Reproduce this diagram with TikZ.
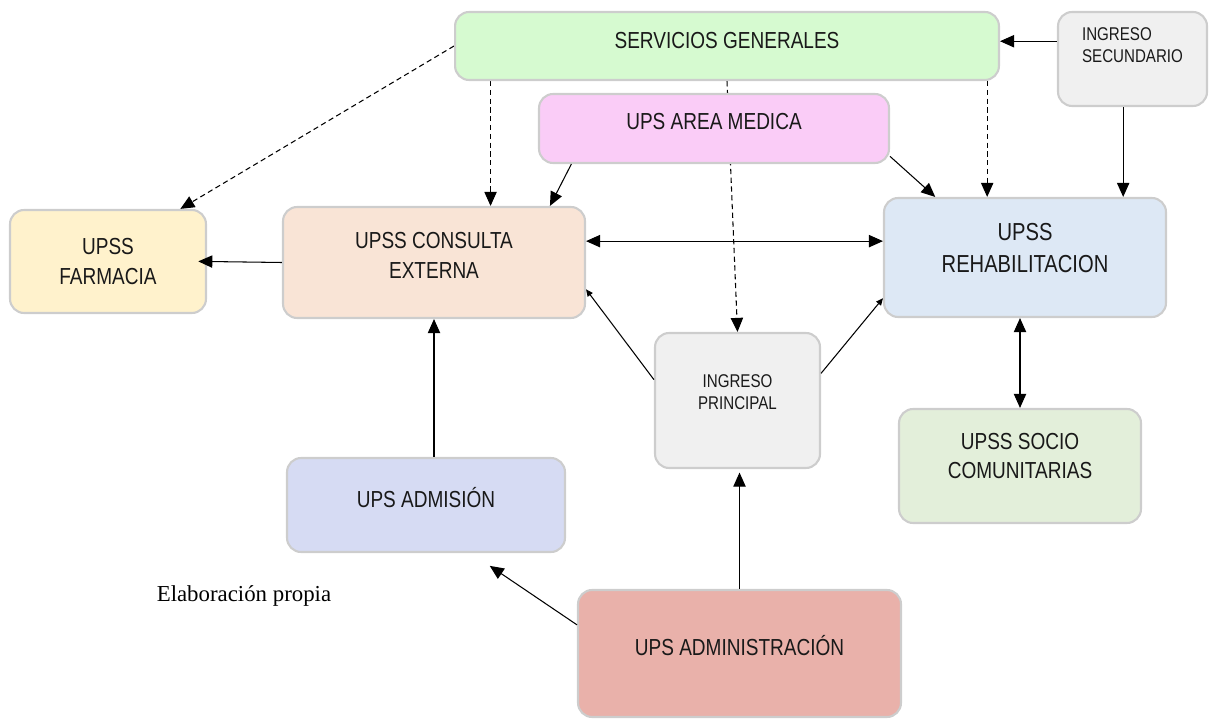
\documentclass[tikz,border=0pt]{standalone}
\usepackage{fontspec}
\setmainfont{Liberation Serif}
\newfontfamily\boxfont{Liberation Sans}[FakeStretch=0.82]
\usetikzlibrary{arrows.meta}

\pgfdeclarelayer{back}
\pgfsetlayers{back,main}

\definecolor{sgfill}{RGB}{214,250,208}
\definecolor{amfill}{RGB}{250,204,247}
\definecolor{farmfill}{RGB}{255,242,204}
\definecolor{consfill}{RGB}{249,228,214}
\definecolor{rehabfill}{RGB}{221,232,245}
\definecolor{ingfill}{RGB}{240,240,240}
\definecolor{sociofill}{RGB}{227,239,218}
\definecolor{admfill}{RGB}{214,219,243}
\definecolor{adminfill}{RGB}{233,177,170}
\definecolor{edge}{RGB}{205,205,205}

\begin{document}
\begin{tikzpicture}[
  x=0.02cm, y=-0.02cm,
  box/.style={draw=edge, line width=1.2pt, rounded corners=8pt},
  txt/.style={font=\boxfont\fontsize{13.2}{17}\selectfont, align=center, text=black!90},
  bigtxt/.style={font=\boxfont\fontsize{14}{18}\selectfont, align=center, text=black!90},
  smalltxt/.style={font=\boxfont\fontsize{10.5}{12.5}\selectfont, align=left, text=black!90},
  arrow/.style={-{Triangle[length=8pt,width=7pt]}, line width=0.6pt},
  both/.style={{Triangle[length=8pt,width=7pt]}-{Triangle[length=8pt,width=7pt]}, line width=0.6pt},
  dasharrow/.style={arrow, dash pattern=on 3pt off 2pt},
  tiparrow/.style={-{Triangle[length=4pt,width=3.5pt]}, line width=0.6pt}
]
\useasboundingbox (0,0) rectangle (1209,719);

% boxes
\node[box, fill=sgfill, minimum width=10.88cm, minimum height=1.36cm,
  label={[txt, yshift=3.4pt]center:SERVICIOS GENERALES}] (sg) at (727,46) {};
\node[box, fill=ingfill, minimum width=2.98cm, minimum height=1.88cm,
  label={[smalltxt, yshift=7.9pt]center:{INGRESO\\SECUNDARIO}}] (isec) at (1132.5,59) {};
\node[box, fill=amfill, minimum width=7cm, minimum height=1.38cm,
  label={[txt, yshift=3.7pt]center:UPS AREA MEDICA}] (am) at (714,128.5) {};
\node[box, fill=farmfill, minimum width=3.92cm, minimum height=2.06cm,
  label={[txt]center:{UPSS\\FARMACIA}}] (farm) at (108,261.5) {};
\node[box, fill=consfill, minimum width=6.04cm, minimum height=2.22cm,
  label={[txt, yshift=4.2pt]center:{UPSS CONSULTA\\EXTERNA}}] (cons) at (434,262.5) {};
\node[box, fill=rehabfill, minimum width=5.64cm, minimum height=2.38cm,
  label={[bigtxt, yshift=5.4pt]center:{UPSS\\REHABILITACION}}] (rehab) at (1025,257.5) {};
\node[box, fill=ingfill, minimum width=3.3cm, minimum height=2.7cm,
  label={[smalltxt, align=center, yshift=4.8pt]center:{INGRESO\\PRINCIPAL}}] (ip) at (737.5,400.5) {};
\node[box, fill=sociofill, minimum width=4.84cm, minimum height=2.28cm,
  label={[txt, yshift=5.7pt]center:{UPSS SOCIO\\COMUNITARIAS}}] (socio) at (1020,466) {};
\node[box, fill=admfill, minimum width=5.56cm, minimum height=1.88cm,
  label={[txt, yshift=4.5pt]center:UPS ADMISIÓN}] (adm) at (426,505) {};
\node[box, fill=adminfill, minimum width=6.46cm, minimum height=2.54cm,
  label={[txt, yshift=4.8pt]center:UPS ADMINISTRACIÓN}] (admin) at (739.5,653.5) {};

\node[font=\fontsize{13}{15}\selectfont] (nota) at (244,596) {Elaboración propia};

% connectors
\begin{pgfonlayer}{back}
\draw[dasharrow] (sg.west) -- (farm.36);
\draw[dasharrow] (cons.45 |- sg.south) -- (cons.45);
\draw[dasharrow] (sg.south) -- (ip.north);
\draw[dasharrow] (rehab.122 |- sg.south) -- (rehab.122);
\end{pgfonlayer}

\draw[arrow] (isec.west |- sg.1) -- (sg.1);
\draw[arrow] (isec.-101) -- (isec.-101 |- rehab.north);
\draw[arrow] (am.194) -- (cons.26);
\draw[arrow] (am.-9) -- (rehab.146);
\draw[arrow, shorten >=-5pt] (cons.west) -- (farm.east);
\draw[both] (cons.8) -- (cons.8 -| rehab.west);
\draw[tiparrow] (ip.166) -- (cons.-10);
\draw[tiparrow] (ip.18) -- (rehab.196);
\draw[arrow] (cons.south |- adm.north) -- (cons.south);
\draw[arrow, shorten >=2pt] (admin.north) -- (admin.north |- ip.south);
\draw[arrow, shorten >=13pt] (admin.170) -- (adm.-47);
\draw[both] (rehab.south -| socio.north) -- (socio.north);
\end{tikzpicture}
\end{document}
